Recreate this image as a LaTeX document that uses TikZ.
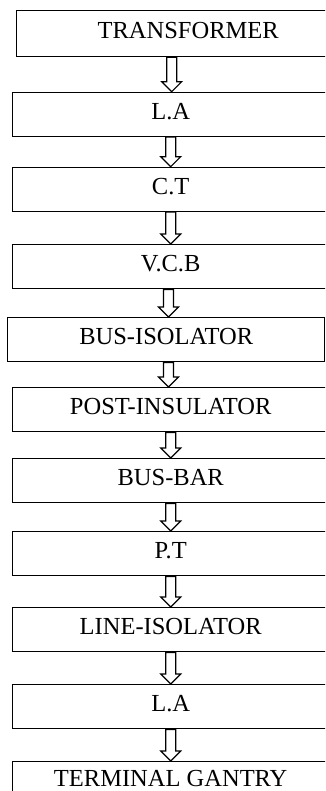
\documentclass[tikz,border=0pt]{standalone}
\usepackage{fontspec}
\setmainfont{Liberation Serif}
\usetikzlibrary{calc}

\begin{document}
\begin{tikzpicture}[x=1pt,y=-1pt,line width=1.4pt,
  caja/.style={draw,rectangle,anchor=north west,minimum width=316pt,minimum height=44pt,
    inner sep=0pt,text depth=6pt,font=\fontsize{24.5}{28}\selectfont},
  flecha/.style={fill=white,line width=1.2pt,to path={let \p1=(\tikztostart),\p2=(\tikztotarget),
    \n1={(\x1+\x2)/2} in
    (\n1-5pt,\y1) -- (\n1-5pt,\y2+10pt) -- (\n1-10pt,\y2+10pt) -- (\n1,\y2)
    -- (\n1+10pt,\y2+10pt) -- (\n1+5pt,\y2+10pt) -- (\n1+5pt,\y1) -- cycle}}]
  \path[use as bounding box] (0,0) rectangle (325,791);
  \clip (0,0) rectangle (325,791);
  % cajas
  \node[caja,minimum width=312pt,minimum height=46pt] (tf) at (16,10) {\hspace*{31pt}TRANSFORMER};
  \node[caja] (la1) at (12,91.7) {L.A};
  \node[caja] (ct) at (12,166.7) {C.T};
  \node[caja] (vcb) at (12,244) {V.C.B};
  \node[caja,minimum width=317pt] (bi) at (7,317) {BUS-ISOLATOR};
  \node[caja] (pi) at (12,387) {POST-INSULATOR};
  \node[caja] (bb) at (12,458) {BUS-BAR};
  \node[caja] (pt) at (12,531) {P.T};
  \node[caja] (li) at (12,607) {LINE-ISOLATOR};
  \node[caja] (la2) at (12,684) {L.A};
  \node[caja,minimum height=40pt] (tg) at (12,761) {TERMINAL GANTRY};
  % flechas
  \foreach \a/\b in {tf/la1,la1/ct,ct/vcb,vcb/bi,bi/pi,pi/bb,bb/pt,pt/li,li/la2,la2/tg}
    \draw[flecha] (\a.south) to (\b.north);
\end{tikzpicture}
\end{document}
